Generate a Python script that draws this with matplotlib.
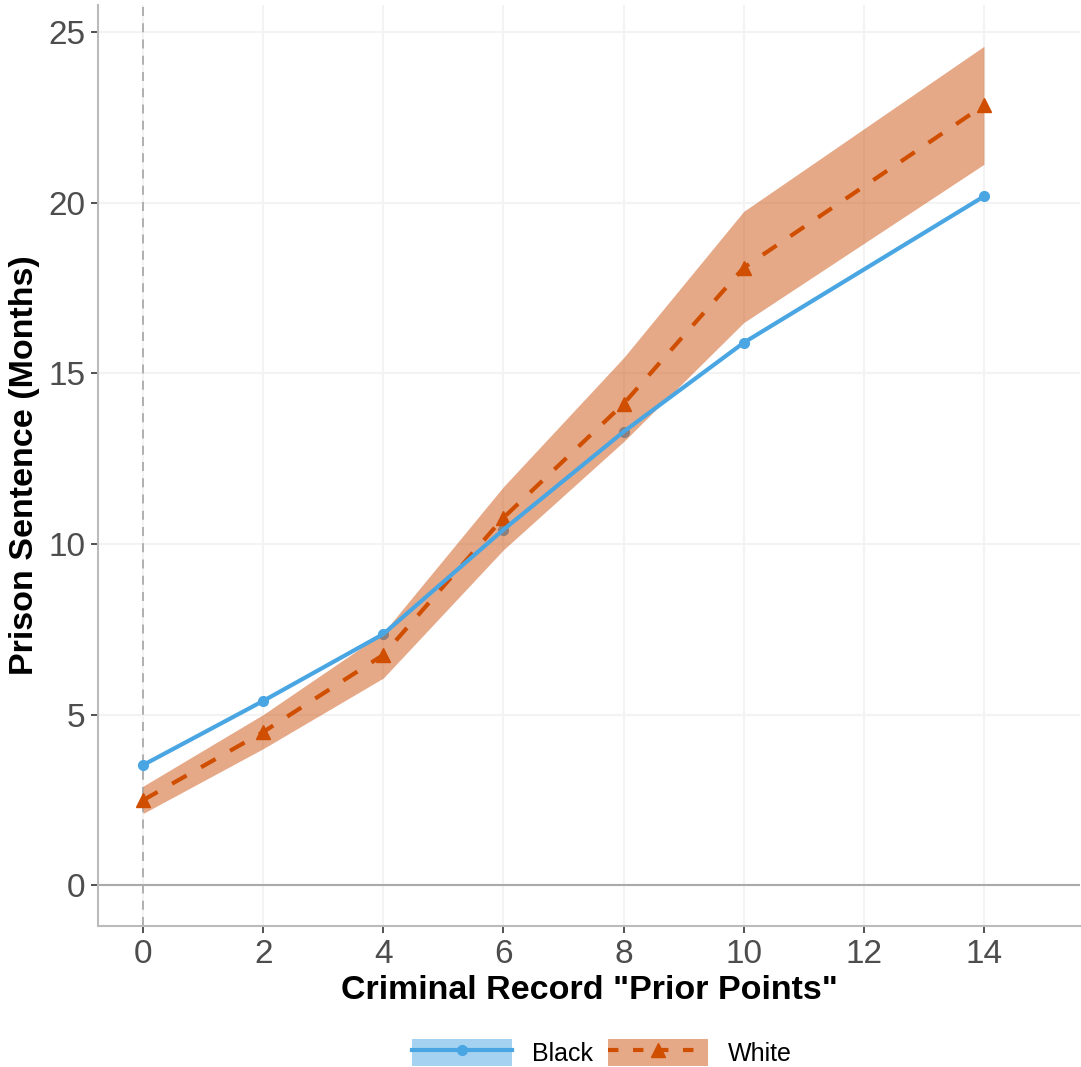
import numpy as np
import matplotlib.pyplot as plt
from matplotlib.patches import Patch
from matplotlib.lines import Line2D

plt.rcParams['font.family'] = ['Liberation Sans', 'DejaVu Sans']

# values
prior_points = [0, 2, 4, 6, 8, 10, 14]
black = [3.52, 5.40, 7.36, 10.42, 13.29, 15.90, 20.19]
white = [2.49, 4.49, 6.75, 10.77, 14.11, 18.10, 22.86]
white_lo = [2.10, 4.00, 6.07, 9.83, 13.00, 16.49, 21.13]
white_hi = [2.90, 5.00, 7.40, 11.68, 15.46, 19.75, 24.59]

blue = '#4AA6E3'
orange = '#D04E00'
ribbon = '#CF5A1A'

fig = plt.figure(figsize=(10.81, 10.67), dpi=100)
ax = fig.add_axes([0.0907, 0.1321, 0.9084, 0.8632])

# reference lines
ax.axhline(0, color='#AAAAAA', lw=1.5, zorder=1)
ax.axvline(0, color='#AAAAAA', lw=1.3, ls=(0, (5, 4)), zorder=1)

# black points sit under the ribbon, its line on top
ax.plot(prior_points, black, color=blue, lw=0, marker='o', ms=7, zorder=2)
ax.fill_between(prior_points, white_lo, white_hi, color=ribbon, alpha=0.52,
                lw=0, zorder=3)
ax.plot(prior_points, white, color=orange, lw=3, ls=(0, (4, 4)), marker='^',
        ms=10, zorder=4)
ax.plot(prior_points, black, color=blue, lw=3, zorder=5)

ax.set_xlim(-0.75, 15.6)
ax.set_ylim(-1.2, 25.8)
ax.set_xticks(np.arange(0, 15, 2))
ax.set_yticks(np.arange(0, 26, 5))
ax.grid(True, color='#F3F3F3', lw=1.5, zorder=0)
ax.set_axisbelow(True)

for s in ['top', 'right']:
    ax.spines[s].set_visible(False)
for s in ['left', 'bottom']:
    ax.spines[s].set_color('#BBBBBB')
    ax.spines[s].set_linewidth(1.5)

ax.tick_params(labelsize=24, labelcolor='#4D4D4D', color='#333333',
               length=5, width=1.2, pad=4)
ax.set_xlabel('Criminal Record "Prior Points"', fontsize=24.5,
              fontweight='bold', labelpad=4)
ax.set_ylabel('Prison Sentence (Months)', fontsize=24.5, fontweight='bold',
              labelpad=6)

h_black = (Patch(facecolor=blue, alpha=0.5, lw=0),
           Line2D([], [], color=blue, lw=3, marker='o', ms=7))
h_white = (Patch(facecolor=ribbon, alpha=0.52, lw=0),
           Line2D([], [], color=orange, lw=3, ls=(0, (2.5, 3.5)), marker='^', ms=10))
fig.legend([h_black, h_white], ['Black', 'White'], loc='lower center',
           bbox_to_anchor=(0.557, -0.02), ncol=2, frameon=False, fontsize=18,
           handlelength=4.0, handleheight=1.3, columnspacing=0.6,
           handletextpad=0.8)

fig.savefig('out.png', dpi=100)
